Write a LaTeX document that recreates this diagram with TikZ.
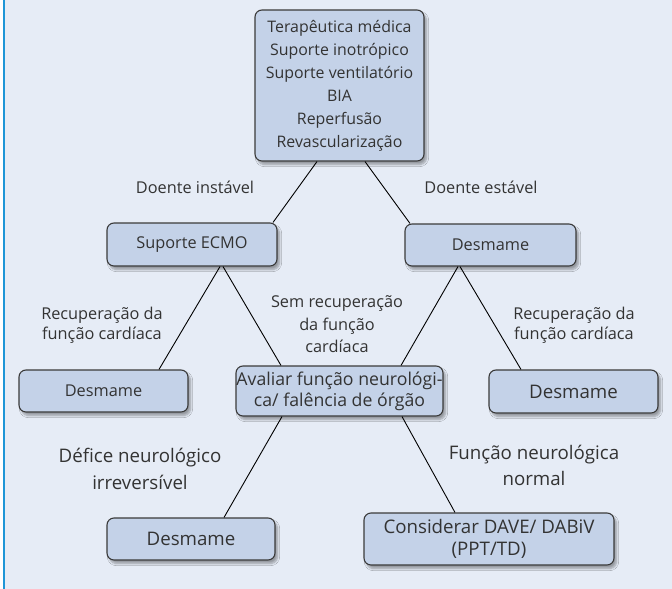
\documentclass[tikz,border=0pt]{standalone}
\usepackage{fontspec}
\setmainfont{Open Sans}
\usetikzlibrary{shadows.blur}

\definecolor{bgpanel}{HTML}{E6ECF6}
\definecolor{boxfill}{HTML}{C4D2E8}
\definecolor{boxline}{HTML}{3A3A3A}
\definecolor{edgeblue}{HTML}{1E96D7}
\definecolor{txt}{HTML}{333333}

\newcommand{\smallfs}[1]{\fontsize{16.3}{#1}\selectfont}
\newcommand{\largefs}[1]{\fontsize{18.7}{#1}\selectfont}

\begin{document}
\begin{tikzpicture}[x=1pt,y=-1pt,
  stepbox/.style={draw=boxline, line width=1.1pt, fill=boxfill,
    rounded corners=7pt, align=center, inner sep=0pt, text=txt,
    blur shadow={shadow xshift=2.5pt, shadow yshift=-3.5pt,
      shadow blur steps=6, shadow opacity=35}},
  lbl/.style={align=center, inner sep=0pt, text=txt},
  conn/.style={draw=black, line width=0.9pt}]

% page and panel
\useasboundingbox (0,0) rectangle (672,589);
\fill[white] (0,0) rectangle (672,589);
\fill[bgpanel] (5,0) rectangle (672,589);
\fill[edgeblue] (3,0) rectangle (5,589);

% boxes
\node[stepbox, minimum width=169pt, minimum height=151pt,
      font=\fontsize{15.9}{23}\selectfont] (top) at (339.5,85.5)
  {Terapêutica médica\\Suporte inotrópico\\Suporte ventilatório\\BIA\\Reperfusão\\Revascularização};
\node[stepbox, minimum width=170pt, minimum height=43pt, font=\smallfs{20}]
  (ecmo) at (192,244.5) {Suporte ECMO};
\node[stepbox, minimum width=171pt, minimum height=42pt, font=\smallfs{20}]
  (desA) at (490.5,245) {Desmame};
\node[stepbox, minimum width=169pt, minimum height=42pt, font=\smallfs{20}]
  (desB) at (103.5,391) {Desmame};
\node[stepbox, minimum width=207pt, minimum height=50pt,
      font=\fontsize{17.7}{21}\selectfont]
  (aval) at (339.5,391) {Avaliar função neurológi-\\ca/ falência de órgão};
\node[stepbox, minimum width=169pt, minimum height=43pt, font=\largefs{21}]
  (desC) at (573.5,391.5) {Desmame};
\node[stepbox, minimum width=168pt, minimum height=42pt, font=\largefs{21}]
  (desD) at (191,539) {Desmame};
\node[stepbox, minimum width=250pt, minimum height=52pt, font=\largefs{22}]
  (cons) at (489,539) {Considerar DAVE/ DABiV\\(PPT/TD)};

% branch labels
\node[lbl, font=\smallfs{20}] (l1) at (195,187) {Doente instável};
\node[lbl, font=\smallfs{20}] (l2) at (481,187) {Doente estável};
\node[lbl, font=\smallfs{20}] (l3) at (102,325) {Recuperação da\\função cardíaca};
\node[lbl, font=\smallfs{22.5}] (l4) at (337,324.5) {Sem recuperação\\da função\\cardíaca};
\node[lbl, font=\smallfs{20}] (l5) at (574,325) {Recuperação da\\função cardíaca};
\node[lbl, font=\largefs{27}] (l6) at (140,468.5) {Défice neurológico\\irreversível};
\node[lbl, font=\largefs{26}] (l7) at (534,465) {Função neurológica\\normal};

% connectors
\draw[conn] ([xshift=-22.5pt]top.south) -- ([xshift=81pt]ecmo.north);
\draw[conn] ([xshift=25.5pt]top.south) -- ([xshift=-80.5pt]desA.north);
\draw[conn] ([xshift=28pt]ecmo.south) -- ([xshift=55.5pt]desB.north);
\draw[conn] ([xshift=31pt]ecmo.south) -- ([xshift=-58.5pt]aval.north);
\draw[conn] ([xshift=-32.5pt]desA.south) -- ([xshift=61.5pt]aval.north);
\draw[conn] ([xshift=-30.5pt]desA.south) -- ([xshift=-52.5pt]desC.north);
\draw[conn] ([xshift=-57.5pt]aval.south) -- ([xshift=33pt]desD.north);
\draw[conn] ([xshift=62.5pt]aval.south) -- ([xshift=-34pt]cons.north);
\end{tikzpicture}
\end{document}
